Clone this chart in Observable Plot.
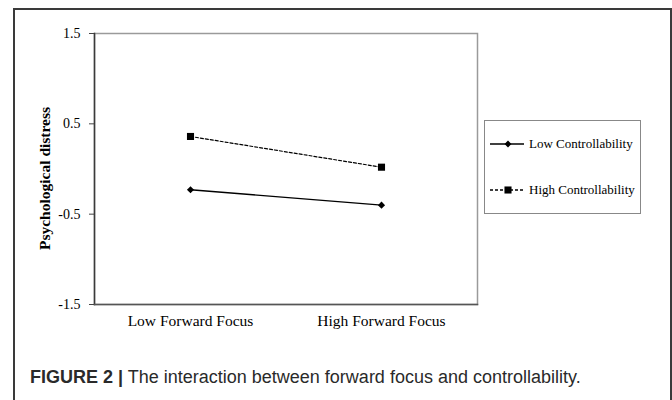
<!DOCTYPE html>
<html><head><meta charset="utf-8">
<script src="https://cdn.jsdelivr.net/npm/d3@7"></script>
<script src="https://cdn.jsdelivr.net/npm/@observablehq/plot@0.6"></script>
<style>
body{margin:0;background:#fff;}
#wrap{position:relative;width:672px;height:400px;overflow:hidden;background:#fff;}
#frame{position:absolute;left:13px;top:8px;width:655px;height:420px;border:2px solid #3a3a3a;border-bottom:none;pointer-events:none;}
#caption{position:absolute;left:30px;top:367px;font-family:"Liberation Sans",Arial,sans-serif;font-size:18px;line-height:20px;color:#2a2a2a;white-space:nowrap;}
#legend{position:absolute;left:484px;top:120px;width:155px;height:92px;border:1px solid #888;font-family:"Liberation Serif","Times New Roman",serif;font-size:13px;color:#000;}
.row{position:absolute;left:0;height:16px;display:flex;align-items:center;}
.row svg{display:block;}
.row span{margin-left:4px;white-space:nowrap;}
</style>
</head><body>
<div id="wrap"></div>
<script>
const categories = ["Low Forward Focus", "High Forward Focus"];
const seriesNames = ["Low Controllability", "High Controllability"];
const lowControllability = [-0.23, -0.40];
const highControllability = [0.36, 0.02];
const yTicks = [-1.5, -0.5, 0.5, 1.5];
const yLabel = "Psychological distress";
const captionBold = "FIGURE 2 |";
const captionText = " The interaction between forward focus and controllability.";

const lowRows = categories.map((c, i) => ({category: c, value: lowControllability[i], series: seriesNames[0]}));
const highRows = categories.map((c, i) => ({category: c, value: highControllability[i], series: seriesNames[1]}));

const chart = Plot.plot({
  width: 672,
  height: 345,
  marginLeft: 94,
  marginRight: 195,
  marginTop: 33,
  marginBottom: 41,
  style: {background: "transparent", fontFamily: "'Liberation Serif','Times New Roman',serif", color: "#000", overflow: "visible"},
  x: {type: "point", domain: categories, padding: 0.5},
  y: {domain: [-1.5, 1.5]},
  marks: [
    Plot.frame({stroke: "#9a9a9a", strokeWidth: 1.5}),
    Plot.frame({anchor: "left", stroke: "#3a3a3a", strokeWidth: 1.5}),
    Plot.frame({anchor: "bottom", stroke: "#555", strokeWidth: 1.5}),
    Plot.axisY({ticks: yTicks, tickSize: 5, tickPadding: 9, fontSize: 14, tickFormat: d => d.toFixed(1), label: null, stroke: "#444"}),
    Plot.axisX({tickSize: 0, tickPadding: 10, fontSize: 15.5, label: null}),
    Plot.text([yLabel], {frameAnchor: "left", textAnchor: "middle", rotate: -90, dx: -49, dy: 9.5, fontWeight: "bold", fontSize: 15.5, fill: "#000"}),
    Plot.line(highRows, {x: "category", y: "value", stroke: "#000", strokeWidth: 1.2, strokeDasharray: "3,2"}),
    Plot.line(lowRows, {x: "category", y: "value", stroke: "#000", strokeWidth: 1.4}),
    Plot.dot(highRows, {x: "category", y: "value", symbol: "square", r: 4, fill: "#000", stroke: "none"}),
    Plot.dot(lowRows, {x: "category", y: "value", symbol: "diamond2", r: 3.2, fill: "#000", stroke: "none"})
  ]
});

const wrap = document.getElementById("wrap");
wrap.appendChild(chart);

// legend
const legend = document.createElement("div");
legend.id = "legend";
const symSquare = d3.symbol(d3.symbolSquare, 50)();
const symDiamond = d3.symbol(d3.symbolDiamond2, 30)();
[[seriesNames[0], "", symDiamond, 14.7], [seriesNames[1], "3,2", symSquare, 61]].forEach(([name, dash, sym, top]) => {
  const row = document.createElement("div");
  row.className = "row";
  row.style.top = top + "px";
  row.innerHTML = `<svg width="40" height="16"><line x1="5" x2="39" y1="8" y2="8" stroke="#000" stroke-width="1.3" ${dash ? `stroke-dasharray="${dash}"` : ""}/><path d="${sym}" transform="translate(23,8)" fill="#000"/></svg><span>${name}</span>`;
  legend.appendChild(row);
});
wrap.appendChild(legend);

const cap = document.createElement("div");
cap.id = "caption";
const b = document.createElement("b");
b.textContent = captionBold;
cap.appendChild(b);
cap.appendChild(document.createTextNode(captionText));
wrap.appendChild(cap);

const frame = document.createElement("div");
frame.id = "frame";
wrap.appendChild(frame);
</script>
</body></html>
